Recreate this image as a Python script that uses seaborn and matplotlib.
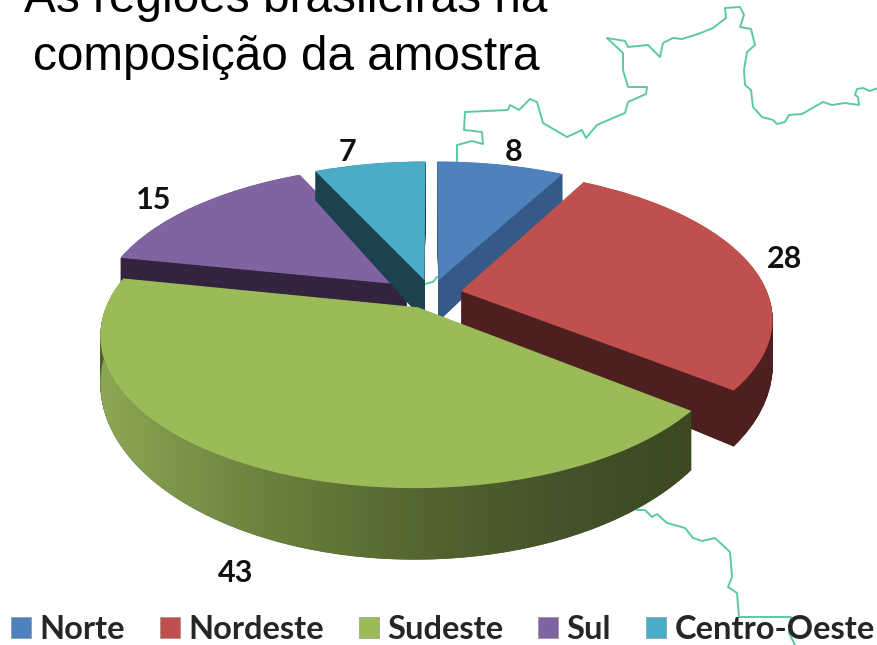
import numpy as np
import matplotlib
matplotlib.use('Agg')
import matplotlib.pyplot as plt
import matplotlib.transforms as mtransforms
from matplotlib.colors import LinearSegmentedColormap
from matplotlib.path import Path
import seaborn as sb

regions = ['Norte', 'Nordeste', 'Sudeste', 'Sul', 'Centro-Oeste']
values = [8, 28, 43, 15, 7]
top_colors = ['#4f81bd', '#c0504d', '#9bbb59', '#8064a2', '#4bacc6']
side_colors = ['#365a87', '#4d1f1e', '#4f6130', '#33233f', '#1c4250']
draw_order = [3, 4, 0, 1, 2]
explode = [0.1] * 5

map_x_1 = [457, 457, 472, 483, 482, 464, 465, 508, 510, 519, 530, 537, 543, 567, 582, 586, 597, 613, 625, 628, 646, 647, 628, 623, 623, 607, 625, 628, 648, 660, 663, 673, 682, 698, 713, 726, 725, 740, 744, 740, 751, 755, 747, 744, 745, 751, 753, 762, 773, 777, 785, 789, 802, 823, 832, 845, 859, 858, 855, 857, 863, 870, 878]
map_y_1 = [163, 145, 141, 144, 132, 130, 112, 110, 105, 110, 99, 102, 123, 137, 130, 138, 125, 118, 113, 102, 94, 87, 87, 70, 53, 38, 41, 47, 45, 57, 43, 38, 39, 34, 28, 18, 8, 7, 15, 27, 29, 45, 52, 70, 85, 90, 107, 117, 120, 124, 122, 115, 114, 102, 105, 103, 105, 97, 95, 89, 88, 91, 88]
map_x_2 = [423, 428, 433, 437]
map_y_2 = [285, 283, 282, 277]
map_x_3 = [637, 645, 652, 657, 667, 685, 693, 702, 715, 730, 732, 728, 737, 739, 791, 789, 795]
map_y_3 = [510, 510, 517, 514, 523, 528, 538, 541, 538, 552, 577, 587, 593, 617, 617, 633, 645]


class PieView(mtransforms.Transform):
    # tilted disc -> pixels, z=0 top face, z=1 bottom face
    input_dims = 2
    output_dims = 2

    def __init__(self, z):
        super().__init__()
        self.z = z

    def transform_non_affine(self, xy):
        xy = np.asarray(xy, dtype=float)
        w = 1 + 0.175 * xy[:, 1]
        px = 431 + 307 * xy[:, 0] / w
        py = 294 - 144 * xy[:, 1] / w + self.z * 43 / w ** 2.4
        return np.column_stack([px, py])


sb.set_theme(style='white')
plt.rcParams['font.family'] = ['Liberation Sans', 'DejaVu Sans']

fig = plt.figure(figsize=(8.78, 6.45), dpi=100)
ax = fig.add_axes([0, 0, 1, 1])

for mx, my in [(map_x_1, map_y_1), (map_x_2, map_y_2), (map_x_3, map_y_3)]:
    sb.lineplot(x=mx, y=my, sort=False, estimator=None, color='#5cc9a4', linewidth=1.4, zorder=0.5, ax=ax)

# stacked discs give the thickness
layers = np.linspace(1, 0, 90)
for n, z in enumerate(layers):
    colors = top_colors if z == 0 else side_colors
    wedges, _ = ax.pie(values, explode=explode, colors=colors, startangle=90, counterclock=False, radius=1)
    for i, w in enumerate(wedges):
        w.set_transform(PieView(z) + ax.transData)
        w.set_linewidth(0)
        w.set_zorder(2 + draw_order.index(i) + 0.5 * n / len(layers) + (0.4 if z == 0 else 0))

# shaded rim of the big slice
cum = np.cumsum(values) / np.sum(values)
t_start = np.deg2rad(90 - 360 * cum[1])
t_end = np.deg2rad(90 - 360 * cum[2])
t_mid = (t_start + t_end) / 2
arc = np.linspace(t_end, t_start, 120)
rim = np.column_stack([np.cos(arc) + explode[2] * np.cos(t_mid), np.sin(arc) + explode[2] * np.sin(t_mid)])
rim_path = Path(np.vstack([PieView(0).transform(rim), PieView(1).transform(rim)[::-1]]))
shade = LinearSegmentedColormap.from_list('rim', ['#8fab55', '#6f8741', '#566a31', '#45542a', '#3b4820'])
im = ax.imshow(np.linspace(0, 1, 256)[None, :], cmap=shade, extent=(85, 705, 575, 290), aspect='auto', zorder=2 + draw_order.index(2) + 0.5)
im.set_clip_path(rim_path, transform=ax.transData)

ax.set_aspect('auto')
ax.set_xlim(0, 878)
ax.set_ylim(645, 0)
ax.set_axis_off()

label_pos = [(514, 152), (785, 259), (236, 573), (154, 200), (347, 152)]
for v, (lx, ly) in zip(values, label_pos):
    ax.text(lx, ly, str(v), ha='center', va='center', fontsize=22, fontweight='bold', family='Lato', color='#111111', zorder=10)

ax.text(286, 12, 'As regiões brasileiras na', ha='center', va='baseline', fontsize=34.4, color='black', zorder=10)
ax.text(286, 70, 'composição da amostra', ha='center', va='baseline', fontsize=34.4, color='black', zorder=10)

handles = [plt.Rectangle((0, 0), 1, 1, facecolor=c, edgecolor='#8a8a8a', linewidth=0.4) for c in top_colors]
leg = ax.legend(handles, regions, ncol=5, frameon=False, loc='lower left', bbox_to_anchor=(11 / 878, 1 / 645), borderaxespad=0, borderpad=0,
                handlelength=0.62, handleheight=0.62, handletextpad=0.25, columnspacing=1.07,
                prop={'family': 'Lato', 'weight': 'bold', 'size': 23.5})
leg.set_zorder(10)

plt.savefig('out.png', dpi=100)
